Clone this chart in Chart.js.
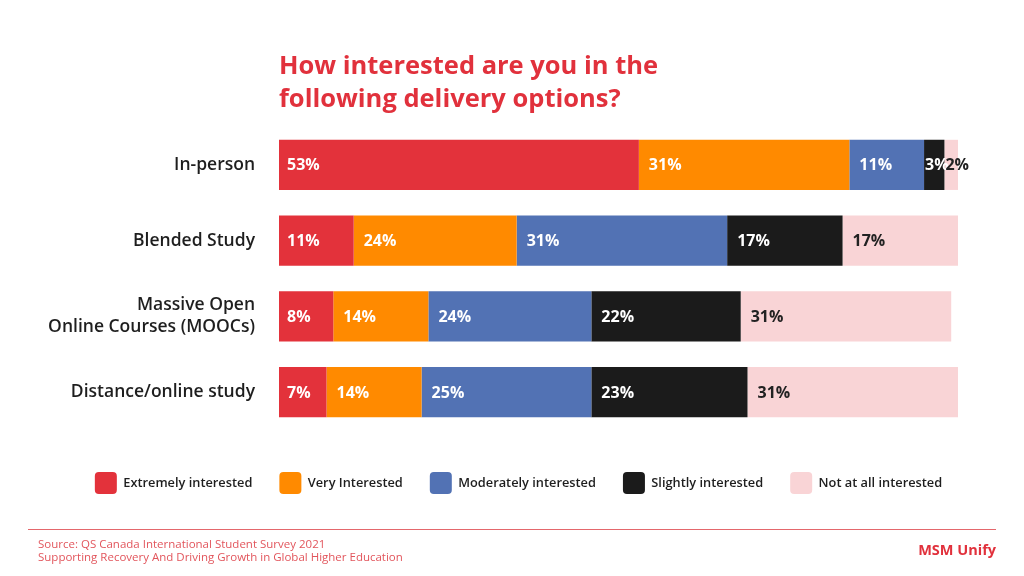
<!DOCTYPE html>
<html><head><meta charset="utf-8">
<script src="https://cdn.jsdelivr.net/npm/chart.js@4.4.0/dist/chart.umd.min.js"></script>
<style>
html,body{margin:0;padding:0;background:#fff;width:1024px;height:576px;overflow:hidden;font-family:"Open Sans",sans-serif}
#wrap{position:relative;width:1024px;height:576px}
#c{position:absolute;left:0;top:0}
#title{position:absolute;left:279px;top:48px;color:#e1313c;font-weight:700;font-size:25.5px;line-height:33px;margin:0}
#rule{position:absolute;left:28px;top:529px;width:968px;height:0;border-top:1.5px solid #e4676c}
#src{position:absolute;left:38px;top:537px;color:#e2555c;font-size:11.5px;line-height:13px}
#brand{position:absolute;right:28px;top:540px;color:#e1313c;font-weight:700;font-size:14.5px}
</style></head><body>
<div id="wrap">
<canvas id="c" width="1024" height="576"></canvas>
<h1 id="title">How interested are you in the<br>following delivery options?</h1>
<div id="rule"></div>
<div id="src">Source: QS Canada International Student Survey 2021<br>Supporting Recovery And Driving Growth in Global Higher Education</div>
<div id="brand">MSM Unify</div>
</div>
<script>
const categories = ["In-person", "Blended Study", ["Massive Open", "Online Courses (MOOCs)"], "Distance/online study"];
const seriesNames = ["Extremely interested", "Very Interested", "Moderately interested", "Slightly interested", "Not at all interested"];
const extremelyInterested = [53, 11, 8, 7];
const veryInterested = [31, 24, 14, 14];
const moderatelyInterested = [11, 31, 24, 25];
const slightlyInterested = [3, 17, 22, 23];
const notAtAllInterested = [2, 17, 31, 31];
const seriesValues = [extremelyInterested, veryInterested, moderatelyInterested, slightlyInterested, notAtAllInterested];
const seriesColors = ["#e3323b", "#ff8a00", "#5272b4", "#1b1b1b", "#f9d4d6"];
const labelColors = ["#ffffff", "#ffffff", "#ffffff", "#ffffff", "#222222"];

const FONT = "'Open Sans', sans-serif";

const barLabels = {
  id: 'barLabels',
  afterDatasetsDraw(chart) {
    const ctx = chart.ctx;
    ctx.save();
    ctx.font = "700 16px " + FONT;
    ctx.textBaseline = 'middle';
    ctx.textAlign = 'left';
    chart.data.datasets.forEach((ds, di) => {
      const meta = chart.getDatasetMeta(di);
      meta.data.forEach((el, i) => {
        const v = ds.data[i];
        const w = el.x - el.base;
        const off = w < 30 ? 1 : (di === 0 ? 8 : 10);
        ctx.fillStyle = labelColors[di];
        ctx.fillText(v + '%', el.base + off, el.y + 1);
      });
    });
    ctx.restore();
  }
};

new Chart(document.getElementById('c'), {
  type: 'bar',
  data: {
    labels: categories,
    datasets: seriesNames.map((n, i) => ({
      label: n,
      data: seriesValues[i],
      backgroundColor: seriesColors[i],
      borderWidth: 0,
      categoryPercentage: 1,
      barPercentage: 0.662
    }))
  },
  options: {
    indexAxis: 'y',
    responsive: false,
    animation: false,
    layout: { padding: { top: 127, bottom: 72, left: 13, right: 0 } },
    scales: {
      x: {
        stacked: true, min: 0, max: 100, position: 'bottom',
        grid: { display: false }, border: { display: false },
        ticks: { display: false },
        afterFit(s) { s.height = 15; }
      },
      y: {
        stacked: true,
        grid: { display: false }, border: { display: false },
        ticks: { color: '#1e1e1e', padding: 16, font: { family: FONT, weight: '600', size: 17.5, lineHeight: 1.26 } },
        afterFit(s) { s.width = 266; }
      },
      yRight: {
        type: 'linear', position: 'right', display: true,
        grid: { display: false }, border: { display: false },
        ticks: { display: false },
        afterFit(s) { s.width = 66; }
      }
    },
    plugins: {
      legend: {
        position: 'bottom',
        labels: {
          boxWidth: 22, boxHeight: 22, padding: 27,
          useBorderRadius: true, borderRadius: 4,
          color: '#1e1e1e',
          font: { family: FONT, weight: '600', size: 12.8 }
        }
      },
      tooltip: { enabled: false }
    }
  },
  plugins: [barLabels]
});
</script>
</body></html>
